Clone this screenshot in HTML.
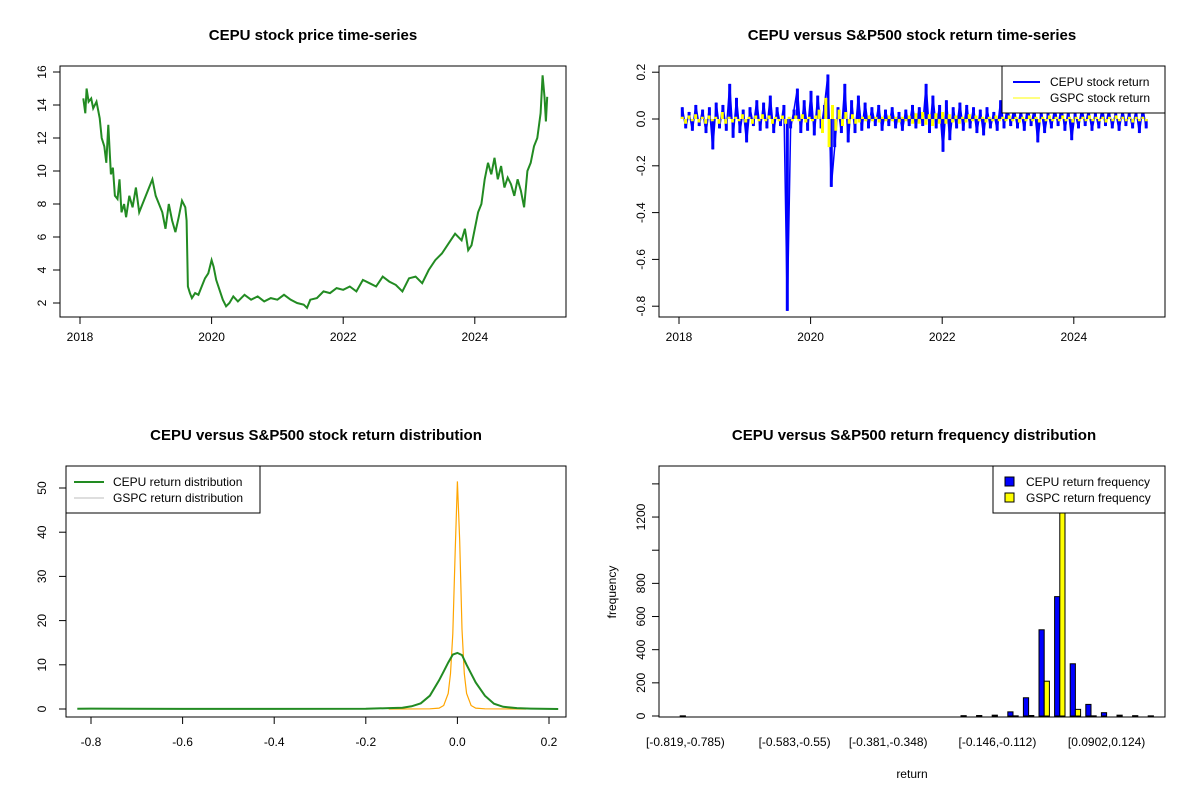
<!DOCTYPE html>
<html><head><meta charset="utf-8"><style>
html,body{margin:0;padding:0;background:#fff;}
svg{display:block;font-family:"Liberation Sans",Arial,sans-serif;}
</style></head><body>
<svg id="s" width="1200" height="800" viewBox="0 0 1200 800" xmlns="http://www.w3.org/2000/svg"></svg>
<script>
// ---------- data ----------
const priceYears=[2018.05,2018.08,2018.1,2018.13,2018.17,2018.2,2018.25,2018.3,2018.33,2018.37,2018.4,2018.43,2018.47,2018.5,2018.53,2018.57,2018.6,2018.63,2018.67,2018.7,2018.75,2018.8,2018.85,2018.9,2018.95,2019.0,2019.05,2019.1,2019.15,2019.2,2019.25,2019.3,2019.35,2019.4,2019.45,2019.5,2019.55,2019.6,2019.62,2019.64,2019.67,2019.7,2019.75,2019.8,2019.85,2019.9,2019.95,2020.0,2020.03,2020.07,2020.12,2020.17,2020.22,2020.27,2020.33,2020.4,2020.5,2020.6,2020.7,2020.8,2020.9,2021.0,2021.1,2021.2,2021.3,2021.4,2021.45,2021.5,2021.6,2021.7,2021.8,2021.9,2022.0,2022.1,2022.2,2022.3,2022.4,2022.5,2022.6,2022.7,2022.8,2022.9,2023.0,2023.1,2023.2,2023.3,2023.4,2023.5,2023.6,2023.7,2023.8,2023.85,2023.9,2023.95,2024.0,2024.05,2024.1,2024.15,2024.2,2024.25,2024.3,2024.35,2024.4,2024.45,2024.5,2024.55,2024.6,2024.65,2024.7,2024.75,2024.8,2024.85,2024.9,2024.95,2025.0,2025.03,2025.06,2025.08,2025.1];
const priceValues=[14.4,13.5,15.0,14.2,14.4,13.8,14.2,13.2,12.0,11.5,10.5,12.8,9.8,10.2,8.5,8.3,9.5,7.5,8.0,7.2,8.5,7.8,9.0,7.5,8.0,8.5,9.0,9.5,8.5,8.0,7.5,6.5,8.0,7.0,6.3,7.2,8.2,7.8,7.0,3.0,2.6,2.3,2.6,2.5,3.0,3.5,3.8,4.6,4.2,3.4,2.8,2.2,1.8,2.0,2.4,2.1,2.5,2.2,2.4,2.1,2.3,2.2,2.5,2.2,2.0,1.9,1.7,2.2,2.3,2.7,2.6,2.9,2.8,3.0,2.7,3.4,3.2,3.0,3.6,3.3,3.1,2.7,3.5,3.6,3.2,4.0,4.6,5.0,5.6,6.2,5.8,6.5,5.2,5.5,6.5,7.5,8.0,9.5,10.5,9.8,10.8,9.5,10.3,9.0,9.6,9.2,8.5,9.5,8.8,7.8,10.0,10.5,11.5,12.0,13.5,15.8,14.5,13.0,14.5];
const cepuReturns=[0.05,-0.04,0.03,-0.05,0.06,-0.03,0.04,-0.06,0.05,-0.13,0.07,-0.04,0.06,-0.05,0.15,-0.08,0.09,-0.06,0.04,-0.10,0.05,-0.03,0.08,-0.05,0.07,-0.04,0.10,-0.06,0.05,-0.03,0.06,-0.82,-0.04,0.04,0.13,-0.06,0.08,-0.05,0.12,-0.07,0.10,-0.04,0.06,0.19,-0.29,-0.12,0.05,-0.06,0.15,-0.10,0.08,-0.06,0.10,-0.05,0.07,-0.04,0.05,-0.03,0.06,-0.05,0.04,-0.03,0.05,-0.04,0.03,-0.05,0.04,-0.03,0.06,-0.04,0.05,-0.03,0.15,-0.06,0.10,-0.04,0.06,-0.14,0.08,-0.09,0.05,-0.04,0.07,-0.05,0.06,-0.04,0.05,-0.06,0.04,-0.07,0.05,-0.04,0.03,-0.05,0.08,-0.04,0.06,-0.03,0.05,-0.04,0.04,-0.05,0.06,-0.03,0.05,-0.10,0.04,-0.06,0.03,-0.04,0.05,-0.03,0.06,-0.05,0.04,-0.09,0.03,-0.04,0.05,-0.03,0.04,-0.05,0.03,-0.04,0.05,-0.03,0.04,-0.04,0.03,-0.05,0.04,-0.03,0.03,-0.04,0.04,-0.06,0.05,-0.04];
const gspcReturns=[0.01,-0.02,0.015,-0.01,0.02,-0.015,0.01,-0.02,0.015,-0.01,0.01,-0.02,0.03,-0.02,0.01,-0.015,0.01,-0.01,0.02,-0.015,0.01,-0.02,0.015,-0.01,0.02,-0.01,0.015,-0.02,0.01,-0.01,0.015,-0.02,0.01,-0.01,0.015,-0.01,0.02,-0.015,0.01,-0.01,0.015,0.04,-0.06,0.09,-0.12,0.06,-0.05,0.04,-0.03,0.03,-0.02,0.02,-0.02,-0.015,0.01,-0.01,0.015,-0.01,0.01,-0.015,0.01,-0.01,0.015,-0.01,0.01,-0.015,0.01,-0.01,0.015,-0.02,0.025,-0.02,0.03,-0.025,0.02,-0.03,0.025,-0.02,0.03,-0.02,0.02,-0.015,0.015,-0.02,0.01,-0.015,0.02,-0.01,0.015,-0.01,0.01,-0.015,0.01,-0.01,0.015,-0.01,0.01,-0.01,0.015,-0.01,0.01,-0.015,0.01,-0.01,0.015,-0.01,0.01,-0.015,0.01,-0.01,0.015,-0.01,0.01,-0.01,0.015,-0.01,0.01,-0.015,0.01,-0.01,0.01,-0.01,0.015,-0.01,0.01,-0.01,0.01,-0.015,0.01,-0.01,0.015,-0.01,0.01,-0.01,0.01,-0.015,0.01,-0.01,0.01,-0.01];
const densX=[-0.83,-0.8,-0.6,-0.4,-0.2,-0.15,-0.12,-0.1,-0.08,-0.06,-0.04,-0.03,-0.02,-0.01,0,0.01,0.02,0.03,0.04,0.06,0.08,0.1,0.13,0.16,0.22];
const cepuDens=[0.05,0.08,0.03,0.03,0.05,0.2,0.3,0.6,1.3,3.0,6.5,8.5,10.5,12.3,12.7,12.2,10.0,8.0,6.0,3.0,1.2,0.5,0.2,0.1,0.0];
const gspcX=[-0.15,-0.06,-0.04,-0.03,-0.02,-0.015,-0.01,-0.005,0,0.005,0.01,0.015,0.02,0.03,0.04,0.06,0.15];
const gspcDens=[0,0.05,0.2,0.8,3.5,8,17,35,51.5,38,18,8,3.5,0.8,0.2,0.05,0];
const binLabels=["[-0.819,-0.785)","[-0.583,-0.55)","[-0.381,-0.348)","[-0.146,-0.112)","[0.0902,0.124)"];
const binLabelIdx=[0,7,13,20,27];
const cepuFreq=[1,0,0,0,0,0,0,0,0,0,0,0,0,0,0,0,0,0,2,3,5,25,110,520,720,315,70,20,5,2,1];
const gspcFreq=[0,0,0,0,0,0,0,0,0,0,0,0,0,0,0,0,0,0,0,0,0,1,3,210,1330,40,1,0,0,0,0];
const yearTicks=[2018,2020,2022,2024];
const freqTicks=[0,200,400,600,800,1000,1200,1400];
const freqTickLabels=["0","200","400","600","800","","1200",""];

// ---------- helpers ----------
const S=document.getElementById('s');
const NS='http://www.w3.org/2000/svg';
function mk(tag,a,parent){const e=document.createElementNS(NS,tag);for(const k in a)e.setAttribute(k,a[k]);(parent||S).appendChild(e);return e;}
function txt(x,y,t,o){o=o||{};const e=mk('text',{x:x,y:y,'font-size':o.fs||12,'text-anchor':o.anchor||'middle','font-weight':o.bold?'bold':'normal',fill:'#000'});if(o.rot)e.setAttribute('transform','rotate(-90 '+x+' '+y+')');e.textContent=t;return e;}
function line(x1,y1,x2,y2,c,w){return mk('line',{x1:x1,y1:y1,x2:x2,y2:y2,stroke:c||'#000','stroke-width':w||1});}

// ---------- panel 1: price ----------
const xY1=v=>80+(v-2018)*65.8, yP=v=>303-(v-2)*16.5;
let e;
e=txt(313,40,'CEPU stock price time-series',{fs:15,bold:true});


let d=priceYears.map((t,i)=>(i?'L':'M')+xY1(t).toFixed(1)+','+yP(priceValues[i]).toFixed(1)).join('');
e=mk('path',{d:d,fill:'none',stroke:'#228B22','stroke-width':2});


e=mk('rect',{x:60,y:66,width:506,height:251,fill:'none',stroke:'#000'});


yearTicks.forEach(t=>{line(xY1(t),317,xY1(t),324);txt(xY1(t),341,String(t));});
[2,4,6,8,10,12,14,16].forEach(v=>{line(53,yP(v),60,yP(v));txt(46,yP(v),String(v),{rot:true});});

// ---------- panel 2: returns ----------
const xY2=v=>679+(v-2018)*65.8, yR=v=>119-v*234;
e=txt(912,40,'CEPU versus S&P500 stock return time-series',{fs:15,bold:true});


const n=cepuReturns.length;
const tAt=i=>2018.05+i*(2025.1-2018.05)/(n-1);
d=cepuReturns.map((v,i)=>'M'+xY2(tAt(i)).toFixed(1)+','+yR(0)+'V'+yR(v).toFixed(1)).join('');
e=mk('path',{d:d,fill:'none',stroke:'#0000ff','stroke-width':3});


d=cepuReturns.map((v,i)=>(i?'L':'M')+xY2(tAt(i)).toFixed(1)+','+yR(v).toFixed(1)).join('');
e=mk('path',{d:d,fill:'none',stroke:'#0000ff','stroke-width':1.5});


const m=gspcReturns.length;
const tG=i=>2018.05+i*7.05/(m-1);
d=gspcReturns.map((v,i)=>'M'+xY2(tG(i)).toFixed(1)+','+yR(0)+'V'+yR(v).toFixed(1)).join('');
e=mk('path',{d:d,fill:'none',stroke:'#ffff00','stroke-width':3});


e=mk('rect',{x:659,y:66,width:506,height:251,fill:'none',stroke:'#000'});


yearTicks.forEach(t=>{line(xY2(t),317,xY2(t),324);txt(xY2(t),341,String(t));});
[0.2,0,-0.2,-0.4,-0.6,-0.8].forEach(v=>{line(652,yR(v),659,yR(v));txt(645,yR(v),v.toFixed(1),{rot:true});});
const lg2=mk('g',{});


mk('rect',{x:1002,y:66,width:163,height:47,fill:'#fff',stroke:'#000'},lg2);
mk('line',{x1:1013,y1:82,x2:1040,y2:82,stroke:'#0000ff','stroke-width':2},lg2);
mk('line',{x1:1013,y1:98,x2:1040,y2:98,stroke:'#ffff00','stroke-width':1},lg2);
let t1=mk('text',{x:1050,y:86,'font-size':12},lg2);t1.textContent='CEPU stock return';
let t2=mk('text',{x:1050,y:102,'font-size':12},lg2);t2.textContent='GSPC stock return';

// ---------- panel 3: density ----------
const xD=v=>91+(v+0.8)*458, yD=v=>709-v*4.42;
e=txt(316,440,'CEPU versus S&P500 stock return distribution',{fs:15,bold:true});


d=gspcX.map((x,i)=>(i?'L':'M')+xD(x).toFixed(1)+','+yD(gspcDens[i]).toFixed(1)).join('');
e=mk('path',{d:d,fill:'none',stroke:'#FFA500','stroke-width':1.2});


d=densX.map((x,i)=>(i?'L':'M')+xD(x).toFixed(1)+','+yD(cepuDens[i]).toFixed(1)).join('');
e=mk('path',{d:d,fill:'none',stroke:'#228B22','stroke-width':2});


e=mk('rect',{x:66,y:466,width:500,height:251,fill:'none',stroke:'#000'});


[-0.8,-0.6,-0.4,-0.2,0,0.2].forEach(v=>{line(xD(v),717,xD(v),724);txt(xD(v),746,v.toFixed(1));});
[0,10,20,30,40,50].forEach(v=>{line(59,yD(v),66,yD(v));txt(46,yD(v),String(v),{rot:true});});
const lg3=mk('g',{});


mk('rect',{x:66,y:466,width:194,height:47,fill:'#fff',stroke:'#000'},lg3);
mk('line',{x1:74,y1:482,x2:104,y2:482,stroke:'#228B22','stroke-width':2},lg3);
mk('line',{x1:74,y1:498,x2:104,y2:498,stroke:'#bebebe','stroke-width':1},lg3);
t1=mk('text',{x:113,y:486,'font-size':12},lg3);t1.textContent='CEPU return distribution';
t2=mk('text',{x:113,y:502,'font-size':12},lg3);t2.textContent='GSPC return distribution';

// ---------- panel 4: histogram ----------
const unit=5.2, gx0=675;
const xB=(g,b)=>gx0+unit*(g*3+1+b);
const yH=v=>716-v*0.1658;
e=txt(914,440,'CEPU versus S&P500 return frequency distribution',{fs:15,bold:true});


cepuFreq.forEach((v,g)=>{
  const r=mk('rect',{x:xB(g,0),y:yH(v),width:unit,height:Math.max(0,716-yH(v)),fill:'#0000ff',stroke:'#000','stroke-width':1});
  
  
});
gspcFreq.forEach((v,g)=>{
  const top=Math.max(466,yH(v));
  const r=mk('rect',{x:xB(g,1),y:top,width:unit,height:Math.max(0,716-top),fill:'#ffff00',stroke:'#000','stroke-width':1});
  
  
});
e=mk('rect',{x:659,y:466,width:506,height:251,fill:'none',stroke:'#000'});


binLabels.forEach((l,i)=>{txt(xB(binLabelIdx[i],1),746,l);});
freqTicks.forEach((v,i)=>{line(652,yH(v),659,yH(v));if(freqTickLabels[i])txt(645,yH(v),freqTickLabels[i],{rot:true});});
e=txt(912,778,'return');


e=txt(616,592,'frequency',{rot:true});


const lg4=mk('g',{});


mk('rect',{x:993,y:466,width:172,height:47,fill:'#fff',stroke:'#000'},lg4);
mk('rect',{x:1005,y:477,width:9,height:9,fill:'#0000ff',stroke:'#000'},lg4);
mk('rect',{x:1005,y:493,width:9,height:9,fill:'#ffff00',stroke:'#000'},lg4);
t1=mk('text',{x:1026,y:486,'font-size':12},lg4);t1.textContent='CEPU return frequency';
t2=mk('text',{x:1026,y:502,'font-size':12},lg4);t2.textContent='GSPC return frequency';
</script>
</body></html>
